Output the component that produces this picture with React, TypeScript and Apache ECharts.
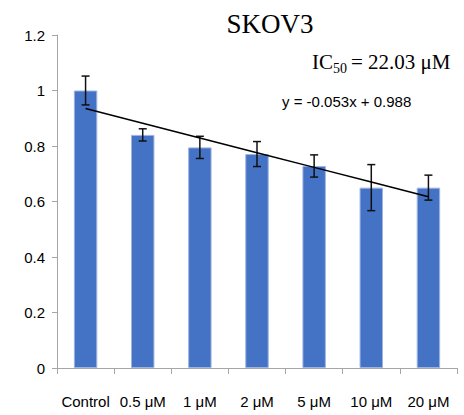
import React, { useEffect, useRef } from "react";
import * as echarts from "echarts";

// Cell viability per treatment
const categories = ["Control", "0.5 μM", "1 μM", "2 μM", "5 μM", "10 μM", "20 μM"];
const means = [1.0, 0.84, 0.795, 0.771, 0.728, 0.65, 0.65];
const errors = [0.052, 0.022, 0.04, 0.045, 0.04, 0.083, 0.045];
const yTicks = [0, 0.2, 0.4, 0.6, 0.8, 1, 1.2];

// Linear trendline (x = 1..7 across the categories)
const trendSlope = -0.053;
const trendIntercept = 0.988;
const trendValues = categories.map((_, i) => +(trendIntercept + trendSlope * (i + 1)).toFixed(4));

const SANS = "'Liberation Sans', Arial, sans-serif";
const SERIF = "'Liberation Serif', 'Times New Roman', serif";

export default function App() {
  const ref = useRef<HTMLDivElement>(null);

  useEffect(() => {
    if (!ref.current) return;
    document.body.style.margin = "0";
    const chart = echarts.init(ref.current, null, { renderer: "svg" });

    const errorData = means.map((m, i) => [i, m - errors[i], m + errors[i]]);

    chart.setOption({
      animation: false,
      grid: { left: 57, right: 7, top: 35, bottom: 47 },
      xAxis: {
        type: "category",
        data: categories,
        boundaryGap: true,
        axisLine: { lineStyle: { color: "#a6a6a6", width: 1 } },
        axisTick: { show: true, alignWithLabel: false, length: 6, lineStyle: { color: "#a6a6a6" } },
        axisLabel: { interval: 0, margin: 26, color: "#000", fontFamily: SANS, fontSize: 15 },
      },
      yAxis: {
        type: "value",
        min: 0,
        max: 1.2,
        interval: 0.2,
        axisLine: { show: true, lineStyle: { color: "#a6a6a6", width: 1 } },
        axisTick: { show: true, length: 5, lineStyle: { color: "#a6a6a6" } },
        splitLine: { show: false },
        axisLabel: {
          margin: 12,
          color: "#000",
          fontFamily: SANS,
          fontSize: 15,
          formatter: (v: number) => {
            const t = yTicks.find((y) => Math.abs(y - v) < 1e-6);
            return t === undefined ? "" : String(+t.toFixed(1));
          },
        },
      },
      series: [
        {
          type: "bar",
          data: means,
          barWidth: "41%",
          itemStyle: { color: "#4472C4", borderColor: "#9db4e0", borderWidth: 1 },
          z: 1,
        },
        {
          type: "custom",
          data: errorData,
          z: 3,
          renderItem: (params: any, api: any) => {
            const i = api.value(0);
            const lo = api.coord([i, api.value(1)]);
            const hi = api.coord([i, api.value(2)]);
            const half = 4;
            const style = { stroke: "#111", lineWidth: 1.5 };
            return {
              type: "group",
              children: [
                { type: "line", shape: { x1: hi[0], y1: hi[1], x2: lo[0], y2: lo[1] }, style },
                { type: "line", shape: { x1: hi[0] - half, y1: hi[1], x2: hi[0] + half, y2: hi[1] }, style },
                { type: "line", shape: { x1: lo[0] - half, y1: lo[1], x2: lo[0] + half, y2: lo[1] }, style },
              ],
            };
          },
        },
        {
          type: "line",
          data: trendValues,
          symbol: "none",
          lineStyle: { color: "#000", width: 1.5 },
          z: 4,
        },
      ],
      graphic: [
        {
          type: "text",
          x: 270,
          y: 24,
          style: {
            text: "SKOV3",
            font: `27px ${SERIF}`,
            fill: "#000",
            align: "center",
            verticalAlign: "middle",
          },
        },
        {
          type: "text",
          x: 312,
          y: 62,
          style: { text: "IC", font: `21px ${SERIF}`, fill: "#000", align: "left", verticalAlign: "middle" },
        },
        {
          type: "text",
          x: 333,
          y: 68,
          style: { text: "50", font: `14px ${SERIF}`, fill: "#000", align: "left", verticalAlign: "middle" },
        },
        {
          type: "text",
          x: 351,
          y: 62,
          style: { text: "= 22.03 μM", font: `21px ${SERIF}`, fill: "#000", align: "left", verticalAlign: "middle" },
        },
        {
          type: "text",
          x: 282,
          y: 101,
          style: {
            text: "y = -0.053x + 0.988",
            font: `15px ${SANS}`,
            fill: "#000",
            align: "left",
            verticalAlign: "middle",
          },
        },
      ],
    });

    return () => chart.dispose();
  }, []);

  return <div ref={ref} style={{ width: 464, height: 415 }} />;
}
